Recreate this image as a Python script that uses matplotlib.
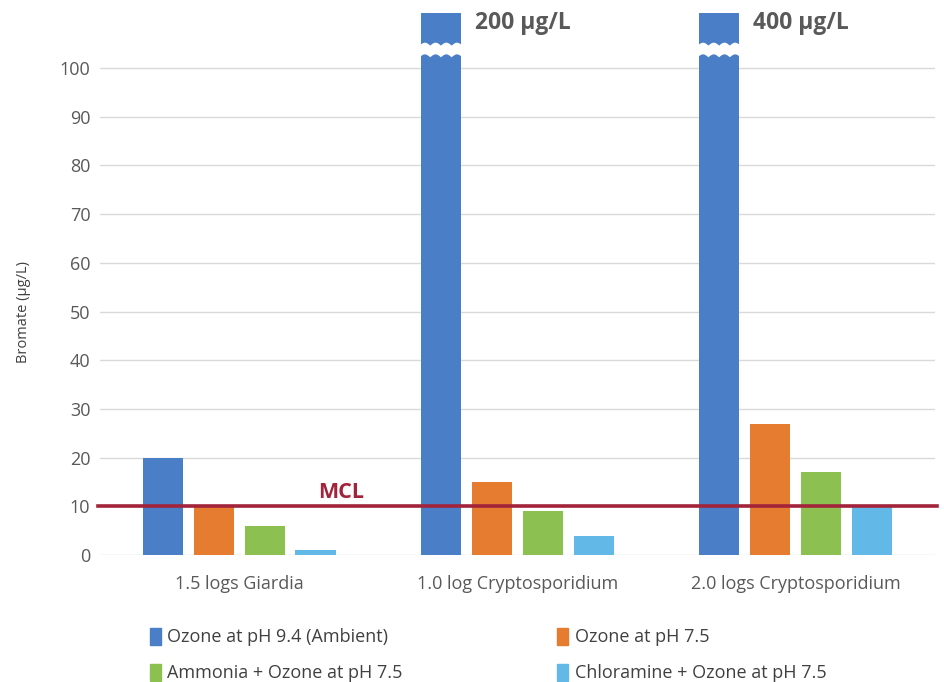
import numpy as np
import matplotlib.pyplot as plt
from matplotlib.patches import Polygon, Patch

plt.rcParams['font.family'] = ['Open Sans', 'DejaVu Sans']

categories = ['1.5 logs Giardia', '1.0 log Cryptosporidium', '2.0 logs Cryptosporidium']
series_names = ['Ozone at pH 9.4 (Ambient)', 'Ozone at pH 7.5',
                'Ammonia + Ozone at pH 7.5', 'Chloramine + Ozone at pH 7.5']
ozone_94 = [20, 200, 400]
ozone_75 = [10, 15, 27]
ammonia_ozone = [6, 9, 17]
chloramine_ozone = [1, 4, 10]
mcl = 10
yticks = [0, 10, 20, 30, 40, 50, 60, 70, 80, 90, 100]

colors = ['#4a7ec6', '#e57c2f', '#8cc152', '#62b8e6']
series = [ozone_94, ozone_75, ammonia_ozone, chloramine_ozone]

fig = plt.figure(figsize=(9.44, 6.82), dpi=100)
ax = fig.add_axes([0.106, 0.186, 0.884, 0.795])

ymax = 111.3
x = np.arange(len(categories))
width = 0.144
step = 0.183
offsets = (np.arange(4) - 1.5) * step

for vals, col, off in zip(series, colors, offsets):
    ax.bar(x + off, vals, width, color=col, zorder=2)

# broken-axis marks and value labels for bars taller than the axis
for xi, v in zip(x + offsets[0], ozone_94):
    if v <= ymax:
        continue
    left, right = xi - width / 2 - 0.005, xi + width / 2 + 0.005
    xs = np.linspace(left, right, 61)
    wave = 0.6 * np.abs(np.sin((xs - left) / (right - left) * 4 * np.pi))
    top = 104.6 + wave
    bot = 102.2 + wave
    pts = np.vstack([np.column_stack([xs, top]), np.column_stack([xs[::-1], bot[::-1]])])
    ax.add_patch(Polygon(pts, closed=True, facecolor='white', edgecolor='none', zorder=3))
    ax.text(xi + width / 2 + 0.05, 109.2, f'{v} µg/L', fontsize=16.5, fontweight='bold',
            color='#595959', ha='left', va='center')

ax.axhline(mcl, xmin=-0.003, xmax=1.003, color='#a3233a', lw=2.6, zorder=4, clip_on=False)
ax.text(0.368, mcl + 2.8, 'MCL', fontsize=15.5, fontweight='bold', color='#a3233a',
        ha='center', va='center')

ax.set_xlim(-0.5, 2.5)
ax.set_ylim(0, ymax)
ax.set_yticks(yticks)
ax.set_xticks(x)
ax.set_xticklabels(categories)
ax.tick_params(axis='both', length=0, labelsize=13, colors='#595959')
ax.tick_params(axis='x', pad=14)
ax.tick_params(axis='y', pad=7)
ax.grid(axis='y', color='#d9d9d9', lw=1, zorder=0)
for s in ax.spines.values():
    s.set_visible(False)
fig.text(24 / 944, 1 - 312 / 682, 'Bromate (µg/L)', rotation=90, fontsize=10.5,
         color='#404040', ha='center', va='center')

handles = [Patch(color=c) for c in colors]
order = [0, 2, 1, 3]
fig.legend([handles[i] for i in order], [series_names[i] for i in order],
           ncol=2, loc='upper left', bbox_to_anchor=(0.149, 0.093),
           frameon=False, fontsize=13, handlelength=0.6, handleheight=1.1,
           handletextpad=0.35, columnspacing=8.6, labelspacing=0.95, borderpad=0,
           labelcolor='#404040')

fig.savefig('out.png', dpi=100)
